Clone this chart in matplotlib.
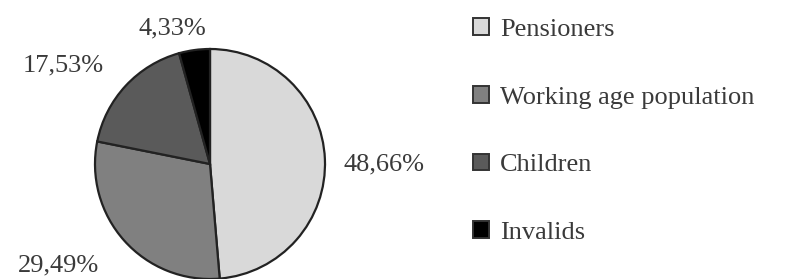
import matplotlib.pyplot as plt
from matplotlib.patches import Patch

groups = ['Pensioners', 'Working age population', 'Children', 'Invalids']
shares = [48.66, 29.49, 17.53, 4.33]
pct_labels = ['48,66%', '29,49%', '17,53%', '4,33%']
colors = ['#d9d9d9', '#808080', '#5a5a5a', '#000000']

plt.rcParams['font.family'] = ['Liberation Serif', 'DejaVu Serif']

fig = plt.figure(figsize=(8.03, 2.79), dpi=100)
W, H = 803, 279
cx, cy, r = 210, 164, 115
ax = fig.add_axes([(cx - r) / W, (H - cy - r) / H, 2 * r / W, 2 * r / H])

wedges, _ = ax.pie(shares, colors=colors, startangle=90, counterclock=False,
                   wedgeprops=dict(edgecolor='#222222', linewidth=1.6))
ax.set_xlim(-1.0, 1.0)
ax.set_ylim(-1.0, 1.0)
ax.set_aspect('equal')

# label placement (data coords, radius = 1)
label_pos = [(1.16, 0.0, 'left'), (-1.32, -0.88, 'center'),
             (-1.28, 0.86, 'center'), (-0.33, 1.18, 'center')]
for txt, (x, y, ha) in zip(pct_labels, label_pos):
    ax.text(x, y, txt, ha=ha, va='center', fontsize=19, color='#3a3a3a', clip_on=False)

handles = [Patch(facecolor=c, edgecolor='#333333', linewidth=1.4) for c in colors]
fig.legend(handles, groups, loc='upper left', bbox_to_anchor=(455 / W, 1.0),
           frameon=False, fontsize=19, labelcolor='#3a3a3a',
           handlelength=0.6, handleheight=0.6, handletextpad=0.4,
           labelspacing=1.7, borderaxespad=0.3)

fig.savefig('out.png', dpi=100)
